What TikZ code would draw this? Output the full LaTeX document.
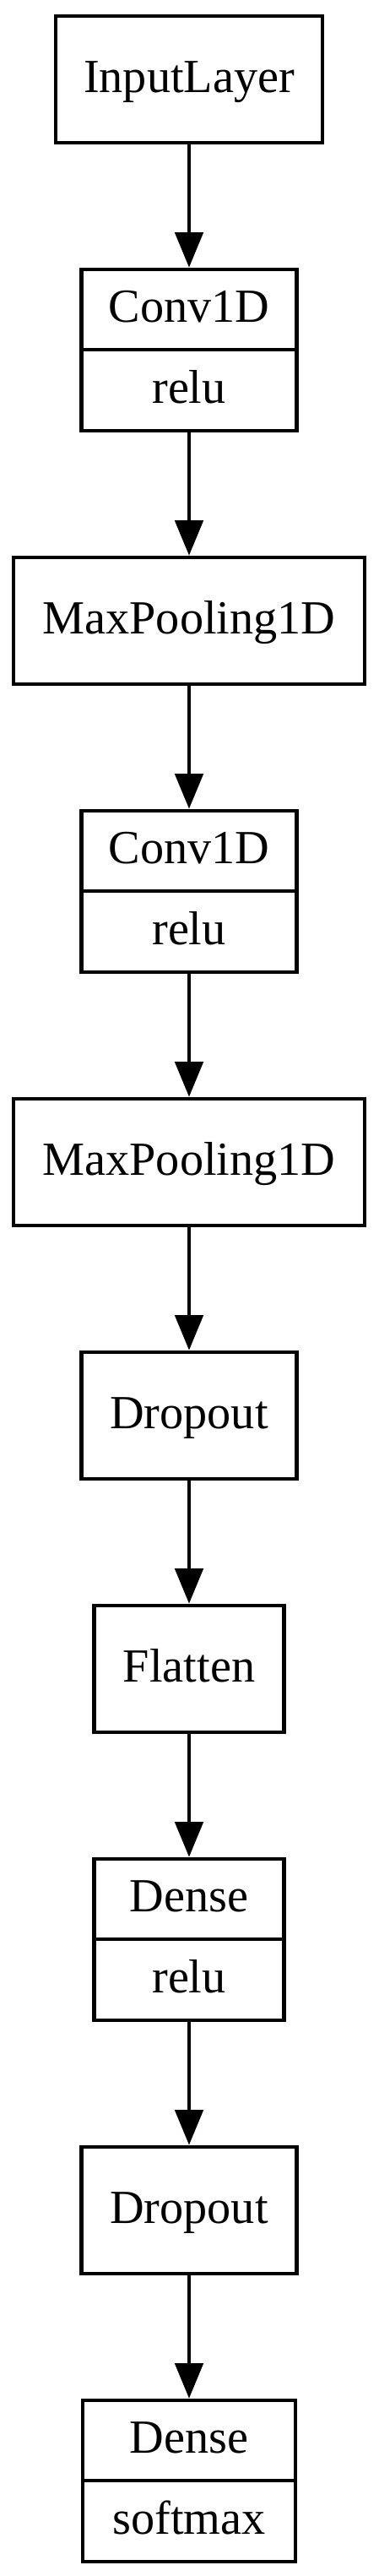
\documentclass[tikz,border=0pt]{standalone}
\usepackage{fontspec}
\setmainfont{Liberation Serif}
\usetikzlibrary{arrows.meta}
\begin{document}
\begin{tikzpicture}[
  x=1pt,y=1pt,
  layer/.style={draw, line width=1pt, rectangle, inner sep=0pt, minimum height=36pt,
    anchor=north, font=\fontsize{13.5}{16}\selectfont, text height=10pt, text depth=2.6pt},
  field/.style={layer, minimum height=22.92pt},
  arr/.style={line width=1pt, -{Triangle[length=10pt,width=8pt]}}
]
\useasboundingbox (0,0) rectangle (107.52,-732);
\node[layer, minimum width=76pt] (in) at (53.76,-4) {InputLayer};
\node[field, minimum width=61.2pt] (c1a) at (53.76,-76) {Conv1D};
\node[field, minimum width=61.2pt] (c1b) at (53.76,-98.92) {relu};
\node[layer, minimum width=100pt] (mp1) at (53.76,-157.84) {MaxPooling1D};
\node[field, minimum width=61.2pt] (c2a) at (53.76,-229.84) {Conv1D};
\node[field, minimum width=61.2pt] (c2b) at (53.76,-252.76) {relu};
\node[layer, minimum width=100pt] (mp2) at (53.76,-311.68) {MaxPooling1D};
\node[layer, minimum width=61.2pt] (do1) at (53.76,-383.68) {Dropout};
\node[layer, minimum width=54pt] (fl) at (53.76,-455.68) {Flatten};
\node[field, minimum width=54pt] (d1a) at (53.76,-527.68) {Dense};
\node[field, minimum width=54pt] (d1b) at (53.76,-550.6) {relu};
\node[layer, minimum width=61.2pt] (do2) at (53.76,-609.52) {Dropout};
\node[field, minimum width=60.5pt] (d2a) at (53.76,-681.52) {Dense};
\node[field, minimum width=60.5pt] (d2b) at (53.76,-704.44) {softmax};
\draw[arr] (in.south) -- (c1a.north);
\draw[arr] (c1b.south) -- (mp1.north);
\draw[arr] (mp1.south) -- (c2a.north);
\draw[arr] (c2b.south) -- (mp2.north);
\draw[arr] (mp2.south) -- (do1.north);
\draw[arr] (do1.south) -- (fl.north);
\draw[arr] (fl.south) -- (d1a.north);
\draw[arr] (d1b.south) -- (do2.north);
\draw[arr] (do2.south) -- (d2a.north);
\end{tikzpicture}
\end{document}
